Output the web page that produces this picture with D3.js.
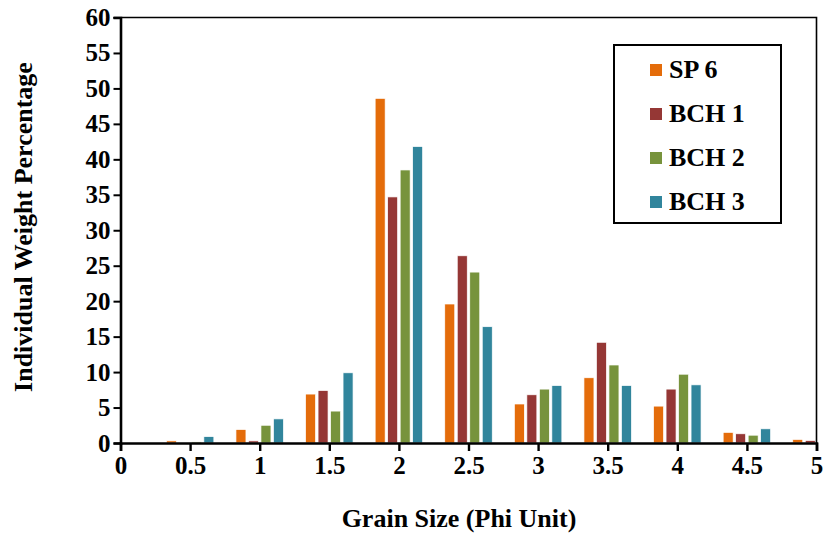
<!DOCTYPE html>
<html>
<head>
<meta charset="utf-8">
<script src="https://cdn.jsdelivr.net/npm/d3@7"></script>
<style>
  body { margin: 0; background: #fff; }
  text { font-family: "Liberation Serif", "Times New Roman", serif; font-weight: bold; }
</style>
</head>
<body>
<svg id="chart" width="825" height="535"></svg>
<script>
// grain size classes (phi)
var phi = [0.5, 1, 1.5, 2, 2.5, 3, 3.5, 4, 4.5, 5];
var seriesNames = ["SP 6", "BCH 1", "BCH 2", "BCH 3"];
var colors = ["#E46C0A", "#953735", "#77933C", "#31859C"];
var sp6  = [0.3, 1.9, 6.9, 48.6, 19.6, 5.5, 9.2, 5.2, 1.5, 0.5];
var bch1 = [0.05, 0.3, 7.4, 34.7, 26.4, 6.8, 14.2, 7.6, 1.3, 0.35];
var bch2 = [0.15, 2.5, 4.5, 38.5, 24.1, 7.6, 11.0, 9.7, 1.1, 0.1];
var bch3 = [0.9, 3.4, 9.9, 41.8, 16.4, 8.1, 8.1, 8.2, 2.0, 0];
var xTicks = [0, 0.5, 1, 1.5, 2, 2.5, 3, 3.5, 4, 4.5, 5];
var yTicks = d3.range(0, 61, 5);

var svg = d3.select("#chart");
var pLeft = 120.5, pRight = 816.5, pTop = 17.5, pBottom = 443;

var x = d3.scaleLinear().domain([0, 5]).range([pLeft, pRight]);
var y = d3.scaleLinear().domain([0, 60]).range([pBottom, pTop]);
var inner = d3.scaleBand().domain(seriesNames).range([-25, 25]).paddingInner(0.2).paddingOuter(0.1);

var rows = [sp6, bch1, bch2, bch3];

svg.append("clipPath").attr("id", "plot")
   .append("rect").attr("x", pLeft).attr("y", pTop).attr("width", pRight - pLeft).attr("height", pBottom - pTop);

var bars = svg.append("g").attr("clip-path", "url(#plot)");
rows.forEach(function(vals, s){
    bars.selectAll(".s" + s)
        .data(vals)
        .enter().append("rect")
        .attr("x", function(d, i){ return x(phi[i]) + inner(seriesNames[s]); })
        .attr("width", inner.bandwidth())
        .attr("y", function(d){ return y(d); })
        .attr("height", function(d){ return pBottom - y(d); })
        .style("fill", colors[s])
        .style("stroke", "#fff")
        .style("stroke-width", 0.7);
});

// plot border (top + right)
svg.append("path")
   .attr("d", "M" + (pLeft - 7) + "," + pTop + "H" + pRight + "V" + pBottom)
   .style("fill", "none").style("stroke", "#000").style("stroke-width", 1.6);

// y axis
var yAxis = svg.append("g")
   .attr("transform", "translate(" + pLeft + ",0)")
   .call(d3.axisLeft(y).tickValues(yTicks).tickSize(7).tickPadding(3));
yAxis.select(".domain").style("stroke-width", 2.6);
yAxis.selectAll(".tick line").style("stroke-width", 2);
yAxis.selectAll("text").attr("font-size", "25px").style("fill", "#000");

// x axis
var xAxis = svg.append("g")
   .attr("transform", "translate(0," + pBottom + ")")
   .call(d3.axisBottom(x).tickValues(xTicks).tickSize(8).tickPadding(5).tickFormat(d3.format("")));
xAxis.select(".domain").style("stroke-width", 2.6);
xAxis.selectAll(".tick line").style("stroke-width", 2.4);
xAxis.selectAll("text").attr("font-size", "25px").style("fill", "#000");

svg.append("text")
   .attr("x", 459).attr("y", 527)
   .attr("text-anchor", "middle")
   .attr("font-size", "26px")
   .text("Grain Size (Phi Unit)");

svg.append("text")
   .attr("transform", "translate(32,227) rotate(-90)")
   .attr("text-anchor", "middle")
   .attr("font-size", "26px")
   .text("Individual Weight Percentage");

// legend
var lg = svg.append("g");
lg.append("rect").attr("x", 614).attr("y", 45).attr("width", 167).attr("height", 178)
  .style("fill", "#fff").style("stroke", "#000").style("stroke-width", 2);
seriesNames.forEach(function(n, i){
    var cy = 70 + i * 44;
    lg.append("rect").attr("x", 650).attr("y", cy - 6).attr("width", 12).attr("height", 12).style("fill", colors[i]);
    lg.append("text").attr("x", 669).attr("y", cy + 8).attr("font-size", "26px").text(n);
});
</script>
</body>
</html>
